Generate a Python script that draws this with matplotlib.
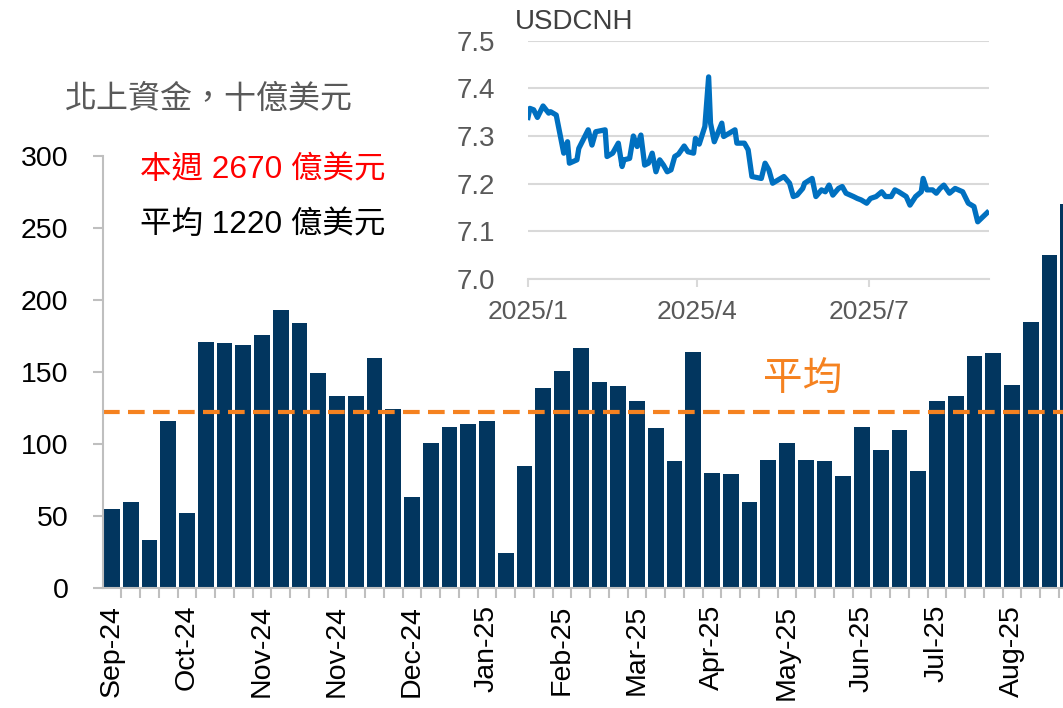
import matplotlib
matplotlib.use('Agg')
import matplotlib.pyplot as plt
import numpy as np

plt.rcParams['font.family'] = ['Liberation Sans', 'Noto Sans CJK TC', 'DejaVu Sans']

# weekly northbound flows, USD bn
flows = [55, 60, 33, 116, 52, 171, 170, 169, 176, 193, 184, 149, 133, 133, 160, 124,
         63, 101, 112, 114, 116, 24, 85, 139, 151, 167, 143, 140, 130, 111, 88, 164,
         80, 79, 60, 89, 101, 89, 88, 78, 112, 96, 110, 81, 130, 133, 161, 163,
         141, 185, 231, 267]
tick_labels = ['Sep-24', 'Oct-24', 'Nov-24', 'Nov-24', 'Dec-24', 'Jan-25', 'Feb-25',
               'Mar-25', 'Apr-25', 'May-25', 'Jun-25', 'Jul-25', 'Aug-25']
avg_flow = 122

# USDCNH, days since 2025-01-01
fx_days = [0, 1, 3, 5, 8, 11, 12, 15, 19, 21, 22, 26, 27, 32, 34, 36, 41, 42, 45, 48,
           50, 51, 54, 56, 58, 60, 62, 64, 66, 68, 70, 72, 74, 76, 78, 80, 83, 85, 88,
           89, 91, 94, 96, 97, 99, 103, 104, 107, 110, 111, 115, 117, 119, 124, 126,
           128, 130, 133, 136, 139, 141, 143, 146, 147, 151, 153, 156, 158, 160, 162,
           165, 167, 169, 173, 175, 177, 180, 182, 185, 188, 190, 193, 195, 197, 201,
           203, 206, 209, 210, 212, 215, 217, 219, 221, 224, 227, 231, 234, 237, 239, 244]
fx_vals = [7.339, 7.358, 7.355, 7.339, 7.363, 7.348, 7.351, 7.344, 7.264, 7.288, 7.243,
           7.250, 7.274, 7.313, 7.281, 7.309, 7.313, 7.257, 7.264, 7.285, 7.236, 7.250,
           7.253, 7.300, 7.278, 7.302, 7.239, 7.243, 7.264, 7.225, 7.250, 7.239, 7.225,
           7.229, 7.257, 7.262, 7.279, 7.267, 7.264, 7.295, 7.283, 7.320, 7.424, 7.327,
           7.288, 7.327, 7.299, 7.306, 7.313, 7.285, 7.285, 7.271, 7.215, 7.211, 7.243,
           7.229, 7.201, 7.208, 7.215, 7.201, 7.173, 7.176, 7.190, 7.201, 7.211, 7.173,
           7.187, 7.183, 7.197, 7.176, 7.190, 7.194, 7.180, 7.173, 7.169, 7.166, 7.159,
           7.169, 7.173, 7.183, 7.173, 7.173, 7.187, 7.183, 7.173, 7.155, 7.173, 7.183,
           7.211, 7.187, 7.187, 7.180, 7.190, 7.197, 7.180, 7.190, 7.183, 7.159, 7.152,
           7.120, 7.139]
fx_ticks = [0, 90, 181]
fx_labels = ['2025/1', '2025/4', '2025/7']

W, H = 1063, 708
fig = plt.figure(figsize=(W / 100, H / 100), dpi=100)

grey = '#BFBFBF'
txt_grey = '#595959'

# main bar chart
ax = fig.add_axes([103 / W, 1 - 588 / H, (W - 103) / W, (588 - 156) / H])
x = np.arange(len(flows))
ax.bar(x, flows, width=0.84, color='#02365F', edgecolor='none')
ax.axhline(avg_flow, color='#F58220', lw=3, dashes=(4, 2))
ax.set_yticks(range(0, 301, 50))
ax.tick_params(axis='y', labelsize=20.5, length=7, width=1.5, color=grey, pad=18)
ax.set_xticks(x[::4])
ax.set_xticklabels(tick_labels, rotation=90, va='top', ha='center')
ax.set_xticks(np.arange(len(flows) + 1) - 0.5, minor=True)
ax.tick_params(axis='x', which='major', length=0, labelsize=20.5, pad=12)
ax.tick_params(axis='x', which='minor', length=7, width=1.5, color=grey)
ax.set_xlim(-0.48, 50.72)
ax.set_ylim(0, 300)
for s in ['top', 'right']:
    ax.spines[s].set_visible(False)
for s in ['left', 'bottom']:
    ax.spines[s].set_color(grey)
    ax.spines[s].set_linewidth(1.5)

# texts
fig.text(65 / W, 1 - 100 / H, '北上資金，十億美元', fontsize=23, color=txt_grey, va='center')
fig.text(140 / W, 1 - 170 / H, '本週 2670 億美元', fontsize=22.7, color='#FF0000', va='center')
fig.text(140 / W, 1 - 225 / H, '平均 1220 億美元', fontsize=22.7, color='black', va='center')
fig.text(803 / W, 1 - 380 / H, '平均', fontsize=28.5, color='#F58220', va='center', ha='center')

# inset USDCNH
ax2 = fig.add_axes([528 / W, 1 - 279 / H, (989 - 528) / W, (279 - 40.7) / H])
ax2.set_facecolor('none')
ax2.plot(fx_days, fx_vals, color='#0070C0', lw=3.8)
ax2.set_yticks([7.0, 7.1, 7.2, 7.3, 7.4, 7.5])
ax2.set_yticklabels(['7.0', '7.1', '7.2', '7.3', '7.4', '7.5'])
ax2.yaxis.grid(True, color='#D9D9D9', lw=1.5)
ax2.set_axisbelow(True)
ax2.set_xticks(fx_ticks)
ax2.set_xticklabels(fx_labels)
ax2.set_ylim(7.0, 7.5)
ax2.set_xlim(0, 245)
ax2.tick_params(axis='y', length=0, labelsize=20, labelcolor=txt_grey, pad=24)
ax2.tick_params(axis='x', length=6, width=1.5, color='#D9D9D9', labelsize=19,
                labelcolor=txt_grey, pad=9)
for s in ['top', 'right', 'left']:
    ax2.spines[s].set_visible(False)
ax2.spines['bottom'].set_color('#D9D9D9')
ax2.spines['bottom'].set_linewidth(1.5)
fig.text(515 / W, 1 - 22 / H, 'USDCNH', fontsize=20, color='#404040', va='center')

fig.savefig('out.png', dpi=100)
